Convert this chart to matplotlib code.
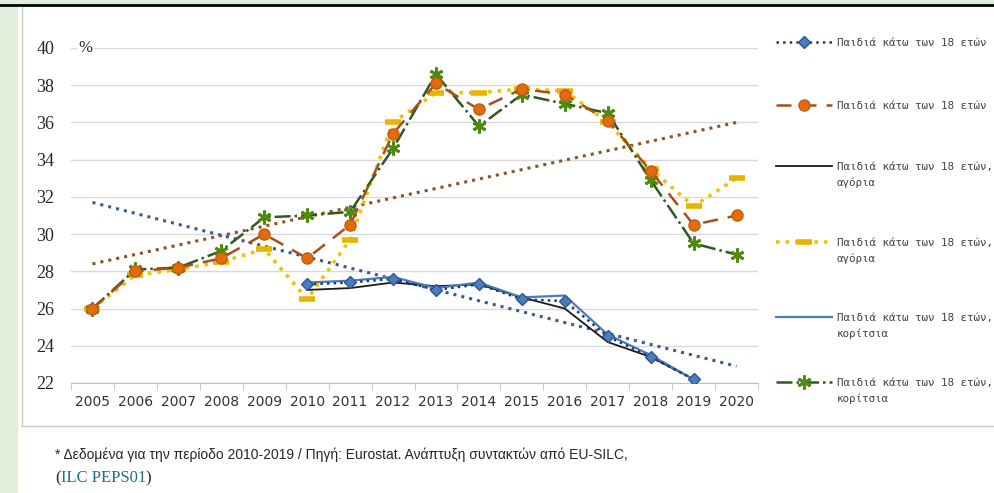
import matplotlib
matplotlib.use('Agg')
from matplotlib import pyplot as plt
from matplotlib.patches import Rectangle
from matplotlib.lines import Line2D
from matplotlib.font_manager import FontProperties
import numpy as np

# Years on the category axis
years = list(range(2005, 2021))
years_eu = list(range(2010, 2020))

# Children under 18 (EU-SILC series 2010-2019 and long series 2005-2020)
total_eu = [27.3, 27.4, 27.6, 27.0, 27.3, 26.5, 26.4, 24.5, 23.4, 22.2]
total = [26.0, 28.0, 28.2, 28.7, 30.0, 28.7, 30.5, 35.4, 38.1, 36.7, 37.8, 37.5, 36.1, 33.4, 30.5, 31.0]
boys_eu = [27.0, 27.1, 27.4, 27.2, 27.3, 26.6, 26.0, 24.2, 23.4, 22.2]
boys = [26.0, 27.8, 28.1, 28.5, 29.2, 26.5, 29.7, 36.0, 37.6, 37.6, 37.8, 37.7, 36.0, 33.5, 31.5, 33.0]
girls_eu = [27.4, 27.5, 27.7, 27.1, 27.4, 26.6, 26.7, 24.6, 23.5, 22.2]
girls = [26.0, 28.1, 28.2, 29.1, 30.9, 31.0, 31.2, 34.6, 38.6, 35.8, 37.5, 37.0, 36.5, 32.9, 29.5, 28.9]

# linear trend lines (end points)
trend_years = [2005, 2020]
trend_eu = [31.7, 22.9]
trend_total = [28.4, 36.0]

yticks = list(range(22, 41, 2))
base_label = 'Παιδιά κάτω των 18 ετών'
labels = [base_label, base_label, base_label + ',', base_label + ',', base_label + ',', base_label + ',']
labels_2nd = [None, None, 'αγόρια', 'αγόρια', 'κορίτσια', 'κορίτσια']

W, H = 995, 493
fig = plt.figure(figsize=(W / 100, H / 100), dpi=100)
fig.patch.set_facecolor('white')

## page decoration: green margins, black rule, chart frame
#
green = '#e2efda'
fig.patches.append(Rectangle((0, 0), 17 / W, 1, transform=fig.transFigure, color=green, zorder=0))
fig.patches.append(Rectangle((0, 1 - 4 / H), 1, 4 / H, transform=fig.transFigure, color=green, zorder=0))
fig.add_artist(Line2D([0, 1], [1 - 5 / H] * 2, transform=fig.transFigure, color='black', lw=2))
fig.add_artist(Line2D([22 / W] * 2, [1 - 7 / H, 1 - 426 / H], transform=fig.transFigure, color='#c8c8c8', lw=1))
fig.add_artist(Line2D([22 / W, 1], [1 - 426 / H] * 2, transform=fig.transFigure, color='#c8c8c8', lw=1))

ax = fig.add_axes([71 / W, 1 - 383 / H, (758 - 71) / W, (383 - 48) / H])

ax.plot(trend_years, trend_eu, ls=':', color='#3b5b8c', lw=2.2, zorder=2)
ax.plot(trend_years, trend_total, ls=':', color='#8a5426', lw=2.2, zorder=2)

h_total_eu, = ax.plot(years_eu, total_eu, ls=':', color='#1f3a6e', lw=1.8,
                      marker='D', ms=6.5, mfc='#4a7ebb', mec='#2f5597', zorder=5)
h_total, = ax.plot(years, total, ls=(0, (6, 4)), color='#a4501c', lw=1.8,
                   marker='o', ms=8, mfc='#e36c0a', mec='#c55a11', zorder=4)
h_boys_eu, = ax.plot(years_eu, boys_eu, ls='-', color='#1a1a1a', lw=1.3, zorder=4)
h_boys, = ax.plot(years, boys, ls=':', color='#f2c200', lw=2.6,
                  marker='_', ms=11, mew=4, mec='#e8b400', zorder=3)
h_girls_eu, = ax.plot(years_eu, girls_eu, ls='-', color='#4a7ebb', lw=1.6, zorder=4)
h_girls, = ax.plot(years, girls, ls='-.', color='#2f5a1e', lw=1.8,
                   marker=(6, 2, 0), ms=10, mew=2, mec='#4f8a10', zorder=3)

ax.set_xlim(2004.5, 2020.5)
ax.set_ylim(22, 40)
ax.set_yticks(yticks)
ax.set_xticks(years)
ax.set_xticks(np.arange(2004.5, 2021, 1), minor=True)
ax.grid(axis='y', color='#d9d9d9', lw=1)
ax.set_axisbelow(True)
for s in ('left', 'right', 'top'):
    ax.spines[s].set_visible(False)
ax.spines['bottom'].set_color('#c0c0c0')
ax.tick_params(axis='y', length=0, pad=12, labelsize=13, labelcolor='#262626')
ax.tick_params(axis='x', which='major', length=0, pad=9, labelsize=10, labelcolor='#333333')
ax.tick_params(axis='x', which='minor', length=5, color='#c0c0c0')
for lbl in ax.get_yticklabels():
    lbl.set_family('Liberation Serif')

ax.text(2004.84, 40, '%', family='Liberation Serif', fontsize=12, ha='center', va='center',
        color='#262626', bbox=dict(facecolor='white', edgecolor='none', pad=1))

## legend, one entry at a time so that the key sits on the first text line
#
handles = [h_total_eu, h_total, h_boys_eu, h_boys, h_girls_eu, h_girls]
entry_y = [43, 106, 167, 243, 318, 383]
leg_font = FontProperties(family='DejaVu Sans Mono', size=7.8)
for h, lab, lab2, y in zip(handles, labels, labels_2nd, entry_y):
    leg = ax.legend([h], [lab], loc='center left', bbox_to_anchor=(776 / W, 1 - y / H),
                    bbox_transform=fig.transFigure, frameon=False, prop=leg_font,
                    handlelength=5.2, handletextpad=0.4, borderpad=0, borderaxespad=0,
                    labelcolor='#404040')
    leg.set_zorder(5)
    ax.legend_ = None  # keep it only once, as an extra artist
    ax.add_artist(leg)
    if lab2:
        ax.annotate(lab2, xy=(0, 0), xycoords=leg.get_texts()[0], xytext=(0, -4),
                    textcoords='offset points', va='top', ha='left', fontproperties=leg_font,
                    color='#404040', annotation_clip=False, zorder=6)

## source note
#
fig.text(55 / W, 1 - 455 / H, '* Δεδομένα για την περίοδο 2010-2019 / Πηγή: Eurostat. Ανάπτυξη συντακτών από EU-SILC,',
         family='Liberation Sans', fontsize=10, va='center', color='#262626')
t_open = fig.text(55 / W, 1 - 478 / H, '(', family='Liberation Serif', fontsize=12, va='center', color='#262626')
t_link = ax.annotate('ILC PEPS01', xy=(1, 0.5), xycoords=t_open, va='center', ha='left',
                     family='Liberation Serif', fontsize=12, color='#1f6f8b', annotation_clip=False)
ax.annotate(')', xy=(1, 0.5), xycoords=t_link, va='center', ha='left',
            family='Liberation Serif', fontsize=12, color='#262626', annotation_clip=False)

fig.savefig('out.png', dpi=100)
